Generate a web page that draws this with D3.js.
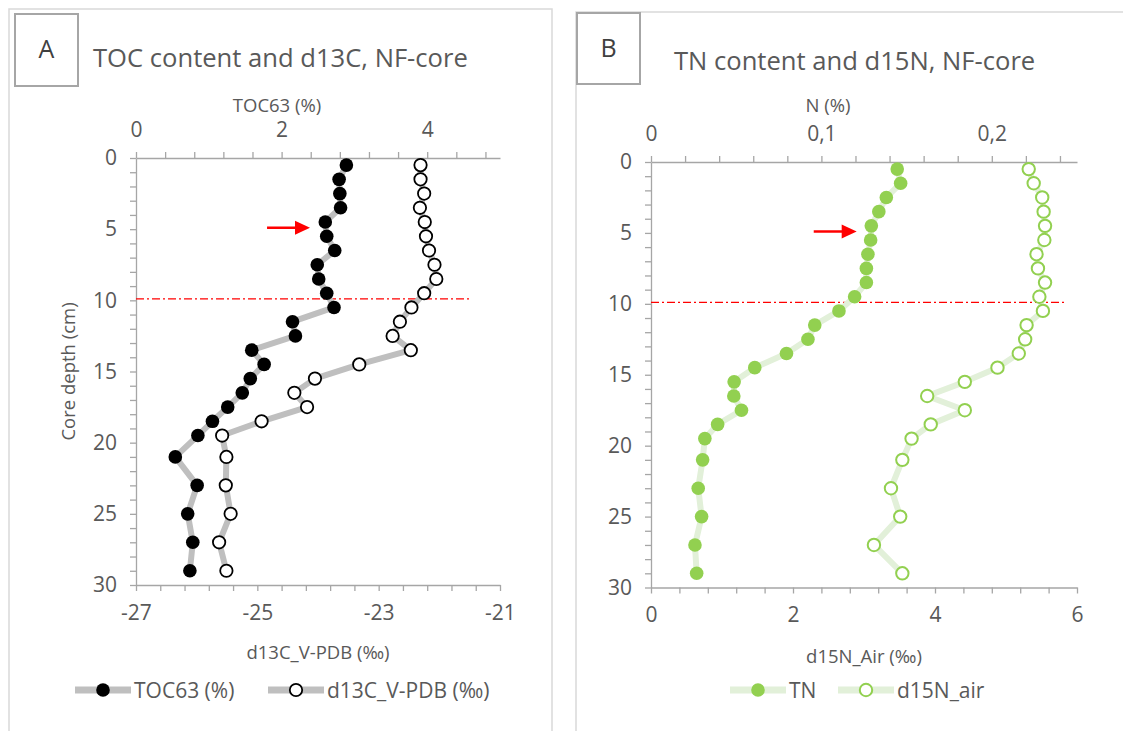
<!DOCTYPE html>
<html>
<head>
<meta charset="utf-8">
<script src="https://cdn.jsdelivr.net/npm/d3@7"></script>
<style>
  body { margin: 0; background: #fff; }
  svg { display: block; font-family: 'Open Sans', sans-serif; }
</style>
</head>
<body>
<svg id="chart" width="1123" height="731"></svg>
<script>
// Sample depths (cm) of the NF-core slices
const depthCm = [0.5, 1.5, 2.5, 3.5, 4.5, 5.5, 6.5, 7.5, 8.5, 9.5, 10.5, 11.5, 12.5, 13.5,
                 14.5, 15.5, 16.5, 17.5, 18.5, 19.5, 21, 23, 25, 27, 29];

// Panel A series
const toc63 = [2.89, 2.79, 2.80, 2.81, 2.60, 2.62, 2.73, 2.49, 2.51, 2.62, 2.72, 2.15, 2.19, 1.59,
               1.76, 1.57, 1.46, 1.26, 1.05, 0.85, 0.54, 0.84, 0.71, 0.78, 0.74];
const d13C = [-22.31, -22.31, -22.25, -22.32, -22.24, -22.22, -22.17, -22.08, -22.05, -22.25, -22.46,
              -22.65, -22.77, -22.47, -23.32, -24.05, -24.39, -24.18, -24.93, -25.58, -25.51, -25.52,
              -25.44, -25.63, -25.51];

// Panel B series
const tnPct = [0.1445, 0.1465, 0.1381, 0.1337, 0.1293, 0.1289, 0.1273, 0.1264, 0.1264, 0.1195, 0.1103,
               0.0961, 0.0921, 0.0795, 0.0609, 0.0488, 0.0486, 0.0531, 0.0391, 0.0316, 0.0303, 0.0277,
               0.0297, 0.0258, 0.0268];
const d15N = [5.32, 5.39, 5.51, 5.53, 5.55, 5.54, 5.43, 5.45, 5.55, 5.47, 5.52, 5.29, 5.27, 5.18,
              4.88, 4.42, 3.89, 4.42, 3.94, 3.67, 3.54, 3.38, 3.51, 3.14, 3.54];

// Axis tick labels
const depthTickLabels = [0, 5, 10, 15, 20, 25, 30];
const tocTickLabels = [0, 2, 4];
const d13cTickLabels = [-27, -25, -23, -21];
const nTickLabels = [0, 0.1, 0.2];
const d15nTickLabels = [0, 2, 4, 6];

// Annotations: boundary depth and arrow depth
const boundaryDepth = 9.9;
const arrowDepth = 4.9;

const TEXT = '#595959';
const AXIS = '#a6a6a6';
const TICK_FONT = 21;
const AXIS_TITLE_FONT = 18.5;
const LEGEND_FONT = 21;
const svg = d3.select('#chart');
svg.append('rect').attr('width', 1123).attr('height', 731).attr('fill', '#fff');

const commaFmt = d3.formatLocale({ decimal: ',', thousands: '.', grouping: [3], currency: ['', ''], minus: '-' }).format('.1~f');

function minorTicks(domain, step) {
  const n = Math.floor((domain[1] - domain[0]) / step + 1e-6);
  return d3.range(n + 1).map(i => +(domain[0] + i * step).toFixed(4));
}

function labelFormat(labels, fmt) {
  return v => labels.some(l => Math.abs(l - v) < 1e-6) ? fmt(v) : '';
}

function drawPanel(p) {
  const g = svg.append('g');

  // panel frame
  g.append('rect')
    .attr('x', p.frame[0]).attr('y', p.frame[1])
    .attr('width', p.frame[2]).attr('height', 760)
    .attr('fill', '#fff').attr('stroke', '#d9d9d9').attr('stroke-width', 1.5);

  // letter box + title
  g.append('rect')
    .attr('x', p.box[0]).attr('y', p.box[1]).attr('width', p.box[2]).attr('height', p.box[3])
    .attr('fill', '#fff').attr('stroke', '#a6a6a6').attr('stroke-width', 2);
  g.append('text')
    .attr('x', p.box[0] + p.box[2] / 2).attr('y', p.box[1] + p.box[3] / 2 - 2)
    .attr('text-anchor', 'middle').attr('dominant-baseline', 'central')
    .attr('font-size', 25).attr('fill', '#404040').text(p.letter);
  g.append('text')
    .attr('x', p.title[0]).attr('y', p.title[1]).attr('dominant-baseline', 'central')
    .attr('font-size', 25.6).attr('fill', TEXT).text(p.titleText);

  const y = d3.scaleLinear().domain([0, 30]).range([p.plot.y0, p.plot.y1]);
  const xTop = d3.scaleLinear().domain(p.topDomain).range([p.plot.x0, p.plot.x1]);
  const xBot = d3.scaleLinear().domain(p.botDomain).range([p.plot.x0, p.plot.x1]);

  // axes
  const axTop = d3.axisTop(xTop).tickValues(minorTicks(p.topDomain, p.topStep))
    .tickFormat(labelFormat(p.topLabels, p.topFmt)).tickSize(6).tickSizeOuter(0).tickPadding(15);
  const axBot = d3.axisBottom(xBot).tickValues(minorTicks(p.botDomain, p.botStep))
    .tickFormat(labelFormat(p.botLabels, v => String(Math.round(v)))).tickSize(6).tickSizeOuter(0).tickPadding(14);
  const axLeft = d3.axisLeft(y).tickValues(d3.range(0, 31))
    .tickFormat(labelFormat(depthTickLabels, v => String(Math.round(v)))).tickSize(6).tickSizeOuter(0).tickPadding(13);

  [[axTop, `translate(0,${p.plot.y0})`], [axBot, `translate(0,${p.plot.y1})`], [axLeft, `translate(${p.plot.x0},0)`]]
    .forEach(([ax, tr]) => {
      const a = g.append('g').attr('transform', tr).call(ax);
      a.selectAll('path.domain').attr('stroke', AXIS).attr('stroke-width', 1.3);
      a.selectAll('.tick line').attr('stroke', AXIS).attr('stroke-width', 1.3);
      a.selectAll('.tick text').attr('fill', TEXT).attr('font-size', TICK_FONT).attr('font-family', "'Open Sans', sans-serif");
    });

  // axis titles
  g.append('text').attr('x', p.topTitle[0]).attr('y', p.topTitle[1])
    .attr('text-anchor', 'middle').attr('dominant-baseline', 'central')
    .attr('font-size', AXIS_TITLE_FONT).attr('fill', TEXT).text(p.topTitleText);
  g.append('text').attr('x', (p.plot.x0 + p.plot.x1) / 2).attr('y', p.botTitleY)
    .attr('text-anchor', 'middle').attr('dominant-baseline', 'central')
    .attr('font-size', AXIS_TITLE_FONT).attr('fill', TEXT).text(p.botTitleText);
  if (p.yTitle) {
    g.append('text').attr('transform', `translate(${p.yTitle[0]},${(p.plot.y0 + p.plot.y1) / 2}) rotate(-90)`)
      .attr('text-anchor', 'middle').attr('dominant-baseline', 'central')
      .attr('font-size', AXIS_TITLE_FONT).attr('fill', TEXT).text(p.yTitleText);
  }

  // boundary line
  g.append('line')
    .attr('x1', xTop(p.topDomain[0])).attr('x2', p.plot.x0 + p.boundaryFrac * (p.plot.x1 - p.plot.x0))
    .attr('y1', y(boundaryDepth)).attr('y2', y(boundaryDepth))
    .attr('stroke', '#ff0000').attr('stroke-width', 1.3).attr('stroke-dasharray', '8,3,2,3');

  // series
  const series = [
    { vals: p.topVals, x: xTop, filled: true },
    { vals: p.botVals, x: xBot, filled: false }
  ];
  series.forEach(s => {
    const pts = depthCm.map((d, i) => [s.x(s.vals[i]), y(d)]);
    g.append('path').attr('d', d3.line()(pts)).attr('fill', 'none')
      .attr('stroke', p.lineColor).attr('stroke-width', 6).attr('stroke-linejoin', 'round').attr('stroke-linecap', 'round');
  });
  series.forEach(s => {
    g.selectAll(null).data(depthCm).enter().append('circle')
      .attr('cx', (d, i) => s.x(s.vals[i])).attr('cy', d => y(d)).attr('r', s.filled ? 6.8 : 6.2)
      .attr('fill', s.filled ? p.markColor : '#fff')
      .attr('stroke', s.filled ? 'none' : p.markColor).attr('stroke-width', p.openStroke);
  });

  // arrow
  const ay = y(arrowDepth);
  const ax0 = xTop(p.arrow[0]), ax1 = xTop(p.arrow[1]);
  g.append('line').attr('x1', ax0).attr('x2', ax1 - 12).attr('y1', ay).attr('y2', ay)
    .attr('stroke', '#ff0000').attr('stroke-width', 2.5);
  g.append('path').attr('d', `M${ax1},${ay} L${ax1 - 15},${ay - 7} L${ax1 - 15},${ay + 7} Z`).attr('fill', '#ff0000');

  // legend
  p.legend.forEach(it => {
    g.append('line').attr('x1', it.x).attr('x2', it.x + 56).attr('y1', p.legendY).attr('y2', p.legendY)
      .attr('stroke', p.lineColor).attr('stroke-width', 7);
    g.append('circle').attr('cx', it.x + 28).attr('cy', p.legendY).attr('r', it.filled ? 6.8 : 6.2)
      .attr('fill', it.filled ? p.markColor : '#fff')
      .attr('stroke', it.filled ? 'none' : p.markColor).attr('stroke-width', p.openStroke);
    g.append('text').attr('x', it.x + 59).attr('y', p.legendY).attr('dominant-baseline', 'central')
      .attr('font-size', LEGEND_FONT).attr('fill', TEXT).text(it.label);
  });
}

drawPanel({
  frame: [9, 9, 543],
  box: [15, 14, 63, 72], letter: 'A',
  title: [93, 57], titleText: 'TOC content and d13C, NF-core',
  plot: { x0: 136, x1: 500, y0: 158, y1: 585 },
  topDomain: [0, 5], topStep: 0.4, topLabels: tocTickLabels, topFmt: v => String(Math.round(v)),
  botDomain: [-27, -21], botStep: 0.4, botLabels: d13cTickLabels,
  topTitle: [277, 104], topTitleText: 'TOC63 (%)',
  botTitleY: 651, botTitleText: 'd13C_V-PDB (‰)',
  yTitle: [67], yTitleText: 'Core depth (cm)',
  topVals: toc63, botVals: d13C,
  lineColor: '#bfbfbf', markColor: '#000', openStroke: 1.8,
  boundaryFrac: 0.917,
  arrow: [1.80, 2.39],
  legendY: 690,
  legend: [{ x: 75, filled: true, label: 'TOC63 (%)' }, { x: 268, filled: false, label: 'd13C_V-PDB (‰)' }]
});

drawPanel({
  frame: [576, 12, 560],
  box: [577, 13, 63, 71], letter: 'B',
  title: [674, 60], titleText: 'TN content and d15N, NF-core',
  plot: { x0: 651, x1: 1077, y0: 162, y1: 587.5 },
  topDomain: [0, 0.25], topStep: 0.02, topLabels: nTickLabels, topFmt: commaFmt,
  botDomain: [0, 6], botStep: 0.4, botLabels: d15nTickLabels,
  topTitle: [828, 104], topTitleText: 'N (%)',
  botTitleY: 655, botTitleText: 'd15N_Air (‰)',
  yTitle: null,
  topVals: tnPct, botVals: d15N,
  lineColor: '#e2f0d9', markColor: '#92d050', openStroke: 2,
  boundaryFrac: 0.972,
  arrow: [0.0955, 0.1207],
  legendY: 690,
  legend: [{ x: 730, filled: true, label: 'TN' }, { x: 838, filled: false, label: 'd15N_air' }]
});
</script>
</body>
</html>
